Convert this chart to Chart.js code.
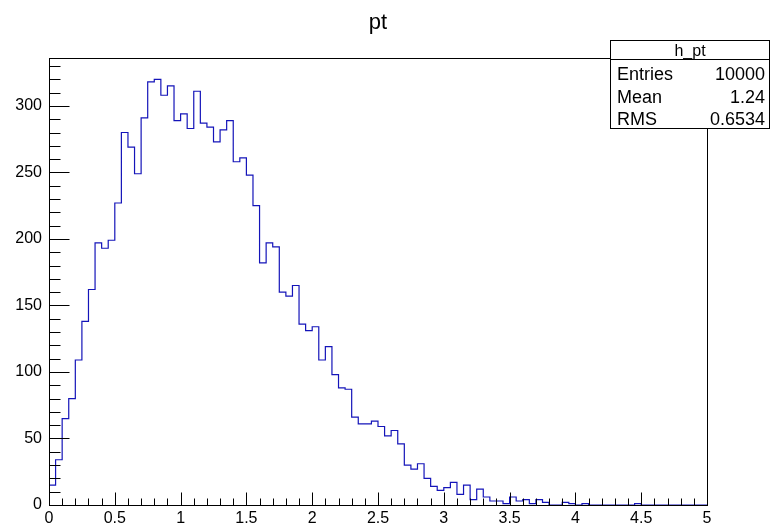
<!DOCTYPE html>
<html>
<head>
<meta charset="utf-8">
<script src="https://cdn.jsdelivr.net/npm/chart.js@4.4.1/dist/chart.umd.min.js"></script>
<style>
html,body{margin:0;padding:0;background:#fff;}
canvas{display:block;}
</style>
</head>
<body>
<canvas id="c" width="775" height="524"></canvas>
<script>
// ---- data ----
const histTitle = 'pt';
const histName = 'h_pt';
const xMin = 0;
const xMax = 5;
const binWidth = 0.05;
const binCounts = [
  15, 34, 65, 80, 109, 138, 162, 197, 193, 199,
  227, 280, 269, 249, 291, 318, 320, 308, 315, 289,
  294, 283, 311, 287, 284, 273, 282, 289, 258, 261,
  248, 225, 182, 197, 194, 160, 157, 165, 136, 131,
  134, 109, 119, 98, 88, 87, 66, 61, 61, 63,
  59, 52, 56, 46, 30, 27, 31, 20, 14, 11,
  13, 17, 8, 15, 4, 12, 6, 3, 3, 1,
  6, 3, 4, 1, 4, 2, 0, 0, 2, 1,
  0, 1, 0, 0, 0, 0, 0, 0, 0, 1,
  0, 0, 0, 0, 0, 0, 0, 0, 0, 0
];
const xTickLabels = ['0', '0.5', '1', '1.5', '2', '2.5', '3', '3.5', '4', '4.5', '5'];
const yTickLabels = ['0', '50', '100', '150', '200', '250', '300'];
const yMax = 336;
const statsLabels = ['Entries', 'Mean', 'RMS'];
const statsValues = ['10000', '1.24', '0.6534'];

// ---- build step points (bin low edges + final upper edge) ----
const points = binCounts.map((v, i) => ({ x: xMin + i * binWidth, y: v }));
points.push({ x: xMax, y: binCounts[binCounts.length - 1] });

const FONT = '"Liberation Sans", Arial, Helvetica, sans-serif';

const rootFrame = {
  id: 'rootFrame',
  afterDatasetsDraw(chart) {
    const ctx = chart.ctx;
    const a = chart.chartArea;
    const xs = chart.scales.x, ys = chart.scales.y;
    ctx.save();
    ctx.strokeStyle = '#000';
    ctx.lineWidth = 1;
    // frame
    ctx.strokeRect(Math.round(a.left) + 0.5, Math.round(a.top) + 0.5,
                   Math.round(a.right - a.left), Math.round(a.bottom - a.top));
    const bottom = Math.round(a.bottom) + 0.5;
    const left = Math.round(a.left) + 0.5;
    ctx.beginPath();
    // x ticks: major 0.5, minor 0.1
    for (let k = 0; k <= 50; k++) {
      const v = xMin + k * 0.1;
      const px = Math.round(xs.getPixelForValue(v)) + 0.5;
      const len = (k % 5 === 0) ? 13 : 7;
      ctx.moveTo(px, bottom);
      ctx.lineTo(px, bottom - len);
    }
    // y ticks: major 50, minor 10
    for (let k = 0; k * 10 <= yMax; k++) {
      const v = k * 10;
      const py = Math.round(ys.getPixelForValue(v)) + 0.5;
      const len = (k % 5 === 0) ? 20 : 11;
      ctx.moveTo(left, py);
      ctx.lineTo(left + len, py);
    }
    ctx.stroke();
    ctx.restore();
  },
  afterDraw(chart) {
    const ctx = chart.ctx;
    const a = chart.chartArea;
    ctx.save();
    // title
    ctx.fillStyle = '#000';
    ctx.font = '22px ' + FONT;
    ctx.textAlign = 'center';
    ctx.textBaseline = 'alphabetic';
    ctx.fillText(histTitle, (a.left + a.right) / 2, 29);
    // stats box
    const bx = 610.5, by = 40.5, bw = 159, bh = 88;
    ctx.fillStyle = '#fff';
    ctx.fillRect(bx, by, bw, bh);
    ctx.strokeStyle = '#000';
    ctx.lineWidth = 1;
    ctx.strokeRect(bx, by, bw, bh);
    ctx.beginPath();
    ctx.moveTo(bx, 59.5);
    ctx.lineTo(bx + bw, 59.5);
    ctx.stroke();
    ctx.fillStyle = '#000';
    ctx.font = '16px ' + FONT;
    ctx.textAlign = 'center';
    ctx.fillText(histName, bx + bw / 2, 56);
    ctx.font = '18px ' + FONT;
    const baselines = [80, 103, 125];
    statsLabels.forEach((lab, i) => {
      ctx.textAlign = 'left';
      ctx.fillText(lab, 617, baselines[i]);
      ctx.textAlign = 'right';
      ctx.fillText(statsValues[i], 765, baselines[i]);
    });
    ctx.restore();
  }
};

new Chart(document.getElementById('c'), {
  type: 'line',
  data: {
    datasets: [{
      data: points,
      stepped: 'before',
      borderColor: 'rgb(20,20,185)',
      borderWidth: 1.2,
      pointRadius: 0,
      fill: false,
      tension: 0
    }]
  },
  options: {
    responsive: false,
    animation: false,
    devicePixelRatio: 1,
    layout: { padding: { top: 58, right: 68, left: 0, bottom: 0 } },
    plugins: { legend: { display: false }, tooltip: { enabled: false }, title: { display: false } },
    scales: {
      x: {
        type: 'linear',
        min: xMin,
        max: xMax,
        grid: { display: false, drawTicks: false },
        border: { display: false },
        ticks: {
          stepSize: 0.5,
          includeBounds: false,
          maxRotation: 0,
          autoSkip: false,
          padding: 4,
          color: '#000',
          font: { family: FONT, size: 16 },
          callback: (v, i) => xTickLabels[i]
        },
        afterFit: (s) => { s.height = 19; }
      },
      y: {
        type: 'linear',
        min: 0,
        max: yMax,
        grid: { display: false, drawTicks: false },
        border: { display: false },
        ticks: {
          stepSize: 50,
          includeBounds: false,
          autoSkip: false,
          padding: 7,
          color: '#000',
          font: { family: FONT, size: 16 },
          callback: (v, i) => yTickLabels[i]
        },
        afterFit: (s) => { s.width = 49; }
      }
    }
  },
  plugins: [rootFrame]
});
</script>
</body>
</html>
